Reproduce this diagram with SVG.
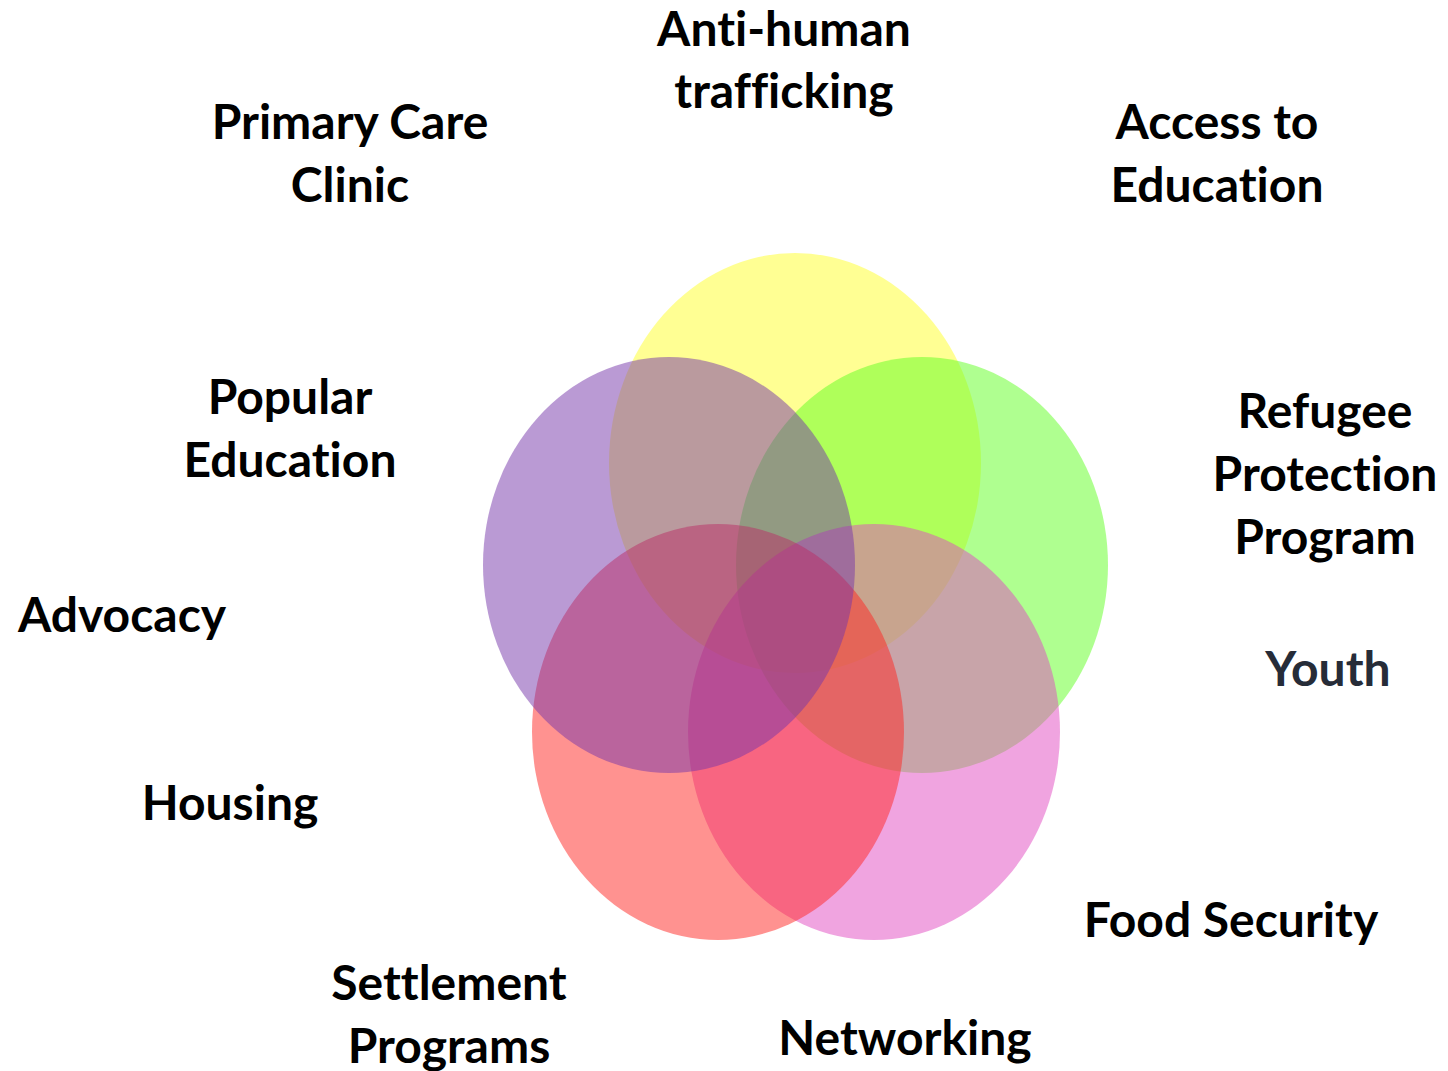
<svg xmlns="http://www.w3.org/2000/svg" width="1448" height="1071" viewBox="0 0 1448 1071">
<style>
.lbl{font-family:Lato,"Open Sans","Liberation Sans",sans-serif;font-weight:bold;font-size:48px;fill:#000;text-anchor:middle;font-variant-ligatures:none;font-feature-settings:"liga" 0,"dlig" 0}
.dark{fill:#262C38}
.c{fill-opacity:0.5}
</style>
<rect width="1448" height="1071" fill="#fff"/>
<g id="circles">
<ellipse id="yellow" class="c" cx="795" cy="463" rx="186" ry="210" fill="#FFFF28"/>
<ellipse id="green" class="c" cx="922" cy="565" rx="186" ry="208" fill="#5FFF21"/>
<ellipse id="pink" class="c" cx="874" cy="732" rx="186" ry="208" fill="#E149C1"/>
<ellipse id="red" class="c" cx="718" cy="732" rx="186" ry="208" fill="#FF2521"/>
<ellipse id="purple" class="c" cx="669" cy="565" rx="186" ry="208" fill="#7535A9"/>
</g>
<g id="anti"><text class="lbl" x="784" y="46">Anti-human</text><text class="lbl" x="784" y="108">trafficking</text></g>
<g id="primary"><text class="lbl" x="350" y="139">Primary Care</text><text class="lbl" x="350" y="202">Clinic</text></g>
<g id="access"><text class="lbl" x="1217" y="139">Access to</text><text class="lbl" x="1217" y="202">Education</text></g>
<g id="popular"><text class="lbl" x="290" y="414">Popular</text><text class="lbl" x="290" y="477">Education</text></g>
<g id="refugee"><text class="lbl" x="1325" y="428">Refugee</text><text class="lbl" x="1325" y="491">Protection</text><text class="lbl" x="1325" y="554">Program</text></g>
<g id="advocacy"><text class="lbl" x="122" y="632">Advocacy</text></g>
<g id="youth"><text class="lbl dark" x="1328" y="686">Youth</text></g>
<g id="housing"><text class="lbl" x="230" y="820">Housing</text></g>
<g id="food"><text class="lbl" x="1231" y="937">Food Security</text></g>
<g id="settlement"><text class="lbl" x="449" y="1000">Settlement</text><text class="lbl" x="449" y="1063">Programs</text></g>
<g id="networking"><text class="lbl" x="905" y="1055">Networking</text></g>
<g id="connectors"/>
</svg>
